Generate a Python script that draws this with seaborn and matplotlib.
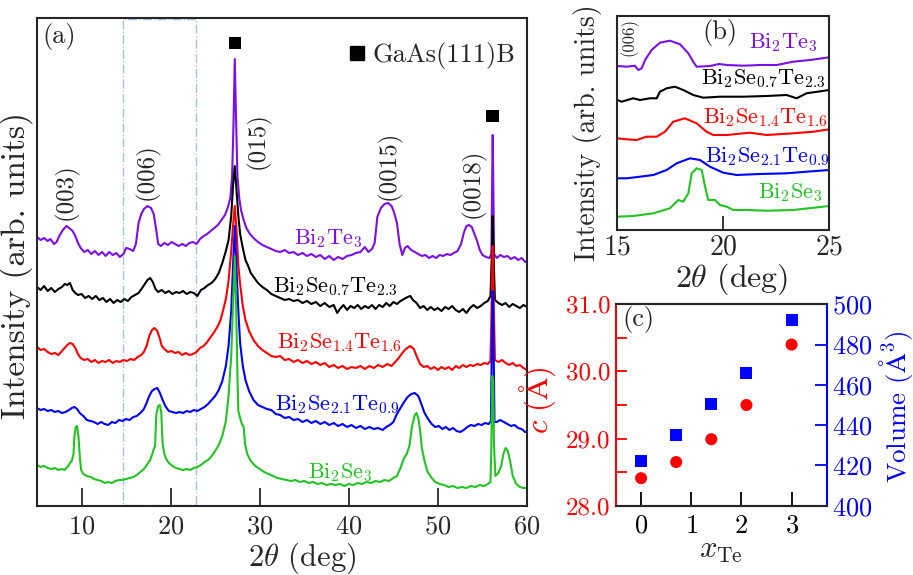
import numpy as np
import pandas as pd
import matplotlib
matplotlib.use("Agg")
import matplotlib.pyplot as plt
from matplotlib.patches import Rectangle
from matplotlib.lines import Line2D
import seaborn as sns

sns.set_style("ticks")
plt.rcParams.update({
    "font.family": "serif",
    "font.serif": ["cmr10"],
    "mathtext.fontset": "cm",
    "axes.formatter.use_mathtext": True,
    "axes.unicode_minus": False,
})

# ---------------- data: panel (a) ----------------
samples = ["Bi2Te3", "Bi2Se0.7Te2.3", "Bi2Se1.4Te1.6", "Bi2Se2.1Te0.9", "Bi2Se3"]
sample_labels = [r"$\mathrm{Bi_2Te_3}$", r"$\mathrm{Bi_2Se_{0.7}Te_{2.3}}$",
                 r"$\mathrm{Bi_2Se_{1.4}Te_{1.6}}$", r"$\mathrm{Bi_2Se_{2.1}Te_{0.9}}$",
                 r"$\mathrm{Bi_2Se_3}$"]
colors = ["#7a0fe6", "#000000", "#ff0000", "#0000ff", "#22c322"]

te3_x = [5.0, 5.4, 5.8, 6.2, 6.5, 6.9, 7.2, 7.5, 7.9, 8.3, 8.6, 9.0, 9.3, 9.6, 9.9, 10.3, 10.7, 11.1, 11.5, 11.9,
         12.3, 12.7, 13.1, 13.5, 13.9, 14.3, 14.7, 15.0, 15.4, 15.8, 16.1, 16.4, 16.7, 17.0, 17.4, 17.8, 18.1, 18.4,
         18.6, 18.9, 19.3, 19.7, 20.1, 20.5, 20.9, 21.3, 21.7, 22.1, 22.5, 22.9, 23.3, 23.7, 24.1, 24.5, 24.9, 25.3,
         25.7, 26.1, 26.4, 26.7, 26.9, 27.05, 27.2, 27.35, 27.5, 27.7, 27.9, 28.2, 28.5, 28.9, 29.3, 29.8, 30.3,
         30.8, 31.3, 31.8, 32.3, 32.8, 33.3, 33.8, 34.3, 34.8, 35.3, 35.8, 36.3, 36.8, 37.3, 37.8, 38.3, 38.8,
         39.3, 39.8, 40.3, 40.8, 41.3, 41.8, 42.2, 42.6, 42.9, 43.2, 43.6, 44.0, 44.4, 44.8, 45.1, 45.4, 45.7,
         46.0, 46.3, 46.6, 47.0, 47.4, 47.8, 48.2, 48.6, 49.0, 49.4, 49.8, 50.2, 50.6, 51.0, 51.4, 51.8, 52.2,
         52.6, 52.9, 53.2, 53.5, 53.8, 54.1, 54.4, 54.7, 55.0, 55.4, 55.8, 56.0, 56.08, 56.15, 56.22, 56.3, 56.6,
         57.0, 57.4, 57.8, 58.2, 58.6, 59.0, 59.4, 59.8, 60.0]
te3_y = [269, 266, 268, 265, 267, 262, 264, 270, 276, 280, 278, 275, 270, 263, 258, 254, 256, 252, 255, 251,
         254, 250, 254, 251, 253, 249, 252, 258, 257, 255, 262, 283, 292, 297, 300, 298, 292, 275,
         262, 260, 263, 261, 264, 262, 260, 262, 260, 263, 264, 262, 267, 270, 272, 275, 278, 281,
         286, 291, 298, 308, 330, 380, 447, 385, 330, 308, 296, 286, 278, 272, 268, 264, 261,
         259, 257, 255, 254, 256, 253, 254, 251, 253, 250, 252, 249, 251, 247, 250, 246, 249,
         247, 250, 251, 253, 254, 259, 254, 257, 263, 289, 298, 302, 303, 300, 293, 283, 262,
         251, 258, 260, 256, 254, 252, 250, 251, 248, 250, 248, 251, 250, 252, 251, 253, 255,
         262, 273, 280, 281, 279, 272, 265, 256, 251, 249, 248, 252, 320, 371, 320, 252, 248,
         251, 249, 250, 247, 249, 246, 248, 244, 245]

s07_x = [5.0, 5.4, 5.8, 6.2, 6.6, 7.0, 7.4, 7.8, 8.1, 8.4, 8.7, 9.0, 9.3, 9.6, 10.0, 10.4, 10.8, 11.2, 11.6, 12.0,
         12.4, 12.8, 13.2, 13.6, 14.0, 14.4, 14.8, 15.2, 15.6, 16.0, 16.4, 16.8, 17.1, 17.4, 17.7, 18.0, 18.3,
         18.6, 19.0, 19.4, 19.8, 20.2, 20.6, 21.0, 21.4, 21.8, 22.2, 22.6, 23.0, 23.4, 23.8, 24.2, 24.6, 25.0,
         25.4, 25.8, 26.2, 26.5, 26.8, 27.0, 27.2, 27.4, 27.6, 27.8, 28.1, 28.4, 28.7, 29.0, 29.4, 29.8, 30.3,
         30.8, 31.3, 31.8, 32.3, 32.8, 33.3, 33.8, 34.3, 34.8, 35.3, 35.8, 36.3, 36.8, 37.3, 37.8, 38.3, 38.7,
         39.0, 39.4, 39.8, 40.2, 40.6, 41.0, 41.4, 41.8, 42.2, 42.6, 43.0, 43.4, 43.8, 44.2, 44.6, 45.0, 45.4,
         45.8, 46.2, 46.6, 46.9, 47.2, 47.6, 48.0, 48.4, 48.8, 49.2, 49.6, 50.0, 50.4, 50.8, 51.2, 51.6, 52.0,
         52.4, 52.8, 53.2, 53.6, 54.0, 54.4, 54.8, 55.2, 55.6, 55.9, 56.05, 56.15, 56.25, 56.4, 56.8, 57.2,
         57.6, 58.0, 58.4, 58.8, 59.2, 59.6, 60.0]
s07_y = [219, 216, 220, 215, 218, 214, 217, 219, 222, 221, 223, 216, 213, 211, 212, 208, 210, 207, 210, 206,
         208, 204, 207, 203, 206, 204, 207, 205, 209, 211, 213, 218, 222, 226, 228, 224, 217,
         214, 216, 213, 215, 212, 214, 213, 215, 212, 214, 213, 210, 216, 218, 221, 223, 227,
         233, 243, 255, 266, 290, 320, 340, 315, 290, 272, 258, 246, 240, 233, 228, 223, 219,
         216, 212, 210, 208, 206, 207, 205, 206, 203, 205, 202, 204, 200, 203, 199, 201, 193,
         197, 201, 196, 200, 198, 201, 197, 200, 198, 201, 197, 201, 199, 203, 200, 204, 202,
         205, 207, 209, 210, 206, 203, 198, 200, 196, 199, 196, 198, 195, 199, 197, 200, 196,
         194, 197, 193, 198, 201, 198, 200, 203, 205, 210, 250, 290, 250, 206, 203, 201,
         203, 199, 202, 200, 198, 201, 199]

s14_x = [5.0, 5.4, 5.8, 6.2, 6.6, 7.0, 7.4, 7.8, 8.1, 8.4, 8.7, 9.0, 9.3, 9.6, 9.9, 10.3, 10.7, 11.1, 11.5, 11.9,
         12.3, 12.7, 13.1, 13.5, 13.9, 14.3, 14.7, 15.1, 15.5, 15.9, 16.3, 16.7, 17.0, 17.3, 17.6, 17.9, 18.2,
         18.5, 18.8, 19.0, 19.3, 19.7, 20.1, 20.5, 20.9, 21.3, 21.7, 22.1, 22.5, 22.9, 23.3, 23.7, 24.1, 24.5,
         24.9, 25.3, 25.6, 25.9, 26.2, 26.5, 26.8, 27.0, 27.2, 27.4, 27.6, 27.8, 28.1, 28.4, 28.8, 29.3, 29.8,
         30.3, 30.8, 31.3, 31.8, 32.3, 32.8, 33.3, 33.8, 34.3, 34.8, 35.3, 35.8, 36.3, 36.8, 37.3, 37.8, 38.3,
         38.8, 39.3, 39.8, 40.3, 40.8, 41.3, 41.8, 42.3, 42.8, 43.3, 43.8, 44.3, 44.8, 45.2, 45.6, 46.0, 46.4,
         46.9, 47.3, 47.6, 48.0, 48.4, 48.8, 49.2, 49.6, 50.0, 50.4, 50.8, 51.2, 51.6, 52.0, 52.4, 52.8, 53.2,
         53.6, 54.0, 54.4, 54.8, 55.2, 55.6, 55.9, 56.05, 56.15, 56.25, 56.4, 56.8, 57.2, 57.6, 58.0, 58.4,
         58.8, 59.2, 59.6, 60.0]
s14_y = [159, 156, 157, 154, 152, 153, 151, 155, 158, 161, 163, 162, 158, 152, 148, 146, 147, 144, 146, 143,
         145, 144, 146, 143, 145, 144, 146, 145, 147, 146, 149, 151, 154, 160, 170, 176, 178,
         175, 167, 160, 157, 154, 155, 153, 154, 151, 153, 151, 152, 154, 158, 160, 164, 169,
         174, 180, 186, 196, 207, 225, 255, 280, 300, 275, 240, 222, 200, 186, 175, 166, 160,
         156, 153, 150, 149, 150, 146, 147, 144, 146, 143, 145, 142, 144, 141, 143, 139, 141,
         138, 140, 137, 139, 138, 140, 137, 140, 138, 141, 139, 142, 140, 144, 148, 153, 157,
         160, 157, 150, 142, 139, 140, 137, 139, 136, 139, 137, 139, 136, 140, 138, 141, 139,
         141, 140, 142, 141, 143, 142, 145, 210, 260, 210, 146, 144, 146, 143, 141, 143,
         140, 141, 138, 136]

s21_x = [5.0, 5.4, 5.8, 6.2, 6.6, 7.0, 7.4, 7.8, 8.2, 8.6, 8.9, 9.2, 9.5, 9.8, 10.2, 10.6, 11.0, 11.4, 11.8, 12.2,
         12.6, 13.0, 13.4, 13.8, 14.2, 14.6, 15.0, 15.4, 15.8, 16.2, 16.6, 17.0, 17.3, 17.6, 17.9, 18.2, 18.5,
         18.8, 19.1, 19.4, 19.8, 20.2, 20.6, 21.0, 21.4, 21.8, 22.2, 22.6, 23.0, 23.4, 23.8, 24.2, 24.6, 25.0,
         25.4, 25.8, 26.2, 26.5, 26.8, 27.0, 27.2, 27.4, 27.6, 27.8, 28.1, 28.4, 28.8, 29.3, 29.8, 30.3, 30.8,
         31.3, 31.8, 32.3, 32.8, 33.3, 33.8, 34.3, 34.8, 35.3, 35.8, 36.3, 36.8, 37.3, 37.8, 38.3, 38.8, 39.3,
         39.8, 40.3, 40.8, 41.3, 41.8, 42.3, 42.8, 43.3, 43.8, 44.2, 44.6, 45.0, 45.4, 45.8, 46.2, 46.6, 47.0,
         47.4, 47.8, 48.1, 48.5, 48.9, 49.3, 49.7, 50.1, 50.5, 50.9, 51.3, 51.7, 52.1, 52.5, 52.9, 53.3, 53.7,
         54.1, 54.5, 54.9, 55.3, 55.7, 55.95, 56.05, 56.15, 56.25, 56.35, 56.6, 57.0, 57.4, 57.8, 58.2, 58.6,
         59.0, 59.4, 59.8, 60.0]
s21_y = [98, 96, 97, 95, 96, 94, 95, 93, 94, 96, 98, 99, 97, 93, 90, 86, 85, 84, 82, 84,
         82, 81, 84, 83, 86, 85, 87, 86, 89, 90, 93, 97, 103, 110, 115, 117, 118,
         113, 106, 100, 95, 94, 93, 94, 93, 95, 94, 96, 95, 97, 99, 102, 106, 110,
         116, 125, 140, 160, 195, 240, 280, 235, 195, 163, 140, 126, 115, 106, 101, 99, 97,
         96, 92, 91, 88, 89, 86, 87, 84, 86, 83, 85, 82, 84, 81, 83, 80, 82,
         79, 81, 78, 80, 77, 79, 77, 78, 76, 79, 81, 84, 92, 98, 104, 109, 112,
         113, 110, 103, 93, 87, 82, 79, 80, 77, 79, 76, 78, 75, 74, 76, 79, 81,
         80, 82, 81, 83, 82, 85, 160, 215, 160, 84, 84, 86, 84, 82, 80, 81,
         78, 77, 74, 74]

se3_x = [5.0, 5.4, 5.8, 6.2, 6.6, 7.0, 7.4, 7.8, 8.1, 8.5, 8.7, 8.9, 9.1, 9.2, 9.35, 9.5, 9.65, 9.8, 9.95, 10.2,
         10.6, 11.0, 11.4, 11.8, 12.2, 12.6, 13.0, 13.4, 13.8, 14.2, 14.6, 15.0, 15.4, 15.8, 16.2, 16.6, 17.0,
         17.4, 17.7, 17.95, 18.1, 18.25, 18.4, 18.6, 18.8, 18.95, 19.1, 19.3, 19.5, 19.8, 20.2, 20.6, 21.0, 21.4,
         21.8, 22.2, 22.6, 23.0, 23.4, 23.8, 24.2, 24.6, 25.0, 25.4, 25.8, 26.2, 26.5, 26.8, 27.0, 27.2, 27.35,
         27.5, 27.6, 27.8, 28.0, 28.2, 28.35, 28.6, 29.0, 29.5, 30.0, 30.5, 31.0, 31.5, 32.0, 32.5, 33.0, 33.5,
         34.0, 34.5, 35.0, 35.5, 36.0, 36.5, 37.0, 37.5, 38.0, 38.5, 39.0, 39.5, 40.0, 40.5, 41.0, 41.5, 42.0,
         42.5, 43.0, 43.5, 44.0, 44.5, 45.0, 45.4, 45.8, 46.2, 46.5, 46.8, 47.1, 47.4, 47.6, 47.8, 48.0, 48.2,
         48.5, 48.8, 49.2, 49.7, 50.2, 50.7, 51.2, 51.7, 52.2, 52.7, 53.2, 53.7, 54.2, 54.7, 55.2, 55.6, 55.9,
         56.0, 56.1, 56.2, 56.3, 56.45, 56.8, 57.1, 57.35, 57.6, 57.85, 58.1, 58.4, 58.8, 59.2, 59.6, 60.0]
se3_y = [41, 39, 40, 38, 37, 38, 36, 37, 36, 40, 43, 45, 52, 70, 79, 80, 70, 50, 36, 32,
         30, 29, 27, 26, 25, 23, 24, 23, 25, 26, 26, 27, 28, 29, 31, 34, 37,
         42, 46, 52, 57, 60, 92, 100, 101, 93, 62, 52, 47, 43, 40, 38, 37, 36,
         37, 36, 38, 39, 41, 44, 46, 50, 55, 61, 70, 85, 110, 150, 200, 250, 200,
         130, 95, 88, 82, 79, 62, 52, 45, 40, 37, 34, 32, 30, 28, 27, 26, 25,
         26, 24, 25, 23, 24, 22, 23, 21, 22, 21, 22, 20, 22, 21, 23, 22, 24,
         23, 25, 24, 26, 25, 28, 30, 38, 48, 52, 60, 80, 91, 93, 88, 76, 58,
         45, 35, 29, 24, 22, 21, 19, 20, 18, 19, 18, 20, 19, 21, 20, 22, 24,
         60, 130, 125, 60, 30, 33, 40, 52, 58, 55, 45, 30, 22, 19, 18, 18]

# GaAs substrate peak markers
gaas_x = [27.2, 56.15]
gaas_y = [463, 390]

# peak index labels (a)
hkl_text = ["(003)", "(006)", "(015)", "(0015)", "(0018)"]
hkl_x = [8.26, 17.35, 29.8, 44.5, 53.94]
hkl_y = [314, 334, 365, 341, 323]

# ---------------- data: panel (b) ----------------
b_te3_x = [15.0, 15.44, 15.83, 15.99, 16.15, 16.31, 16.62, 17.01, 17.48, 17.96, 18.35, 18.58, 18.74, 19.37, 19.8,
           20.16, 20.94, 21.73, 22.52, 23.3, 24.09, 25.0]
b_te3_y = [164, 163.3, 164.3, 160, 161.7, 170, 180, 187.3, 189.3, 185.7, 176.7, 168.3, 163.3, 164, 166,
           165, 164.3, 165, 165, 168.3, 170, 172.7]
b_s07_x = [15.0, 15.2, 15.75, 16.07, 16.54, 16.86, 17.01, 17.33, 17.72, 18.11, 18.58, 19.06, 19.84, 20.94,
           22.04, 22.99, 23.46, 23.93, 25.0]
b_s07_y = [130, 128.3, 131.7, 130, 131.7, 131.7, 138.3, 141.7, 143.3, 140, 135, 132.3, 133.3, 133.3,
           134, 135, 131.7, 136.7, 140]
b_s14_x = [15.0, 15.44, 15.91, 16.38, 16.86, 17.25, 17.64, 18.19, 18.74, 19.21, 19.53, 20.16, 21.26, 22.04,
           23.3, 24.25, 25.0]
b_s14_y = [91.7, 90.7, 90, 93.3, 93.3, 98.3, 108.3, 111.7, 106.7, 98.3, 95, 95, 97.3, 95,
           96.7, 98.3, 100.7]
b_s21_x = [15.0, 15.44, 16.07, 16.7, 17.33, 17.8, 18.43, 18.9, 19.37, 20.0, 20.63, 21.73, 22.99, 23.93, 25.0]
b_s21_y = [51.7, 51.7, 53.3, 55, 60, 66.7, 71.7, 70, 63.3, 57.3, 55, 56, 56.7, 58.3, 60]
b_se3_x = [15.0, 15.75, 16.7, 17.48, 17.88, 18.11, 18.35, 18.51, 18.74, 18.98, 19.14, 19.29, 19.61, 19.84,
           20.16, 20.47, 21.1, 22.04, 23.3, 25.0]
b_se3_y = [13.3, 14, 16.7, 21.7, 30, 28.3, 36.7, 56.7, 61.7, 60, 43.3, 30, 30, 25,
           23.3, 20, 20, 19.3, 20, 24]

# ---------------- data: panel (c) ----------------
x_te = [0, 0.7, 1.4, 2.1, 3.0]
c_lattice = [28.41, 28.65, 28.99, 29.50, 30.40]
cell_volume = [422.4, 435.3, 450.7, 465.7, 492.2]

# ---------------- figure ----------------
W, H = 913, 575
fig = plt.figure(figsize=(W / 100, H / 100), dpi=100)


def axrect(l, t, r, b):
    return [l / W, 1 - b / H, (r - l) / W, (b - t) / H]


ax_a = fig.add_axes(axrect(37, 18, 527, 506))
ax_b = fig.add_axes(axrect(617.3, 15.7, 829.3, 230))
ax_c = fig.add_axes(axrect(616, 304.3, 826.7, 505.7))


def long_df(xs, ys):
    frames = []
    for name, x, y in zip(samples, xs, ys):
        frames.append(pd.DataFrame({"two_theta": x, "intensity": y, "sample": name}))
    return pd.concat(frames, ignore_index=True)


pal = dict(zip(samples, colors))

# ---- panel (a)
df_a = long_df([te3_x, s07_x, s14_x, s21_x, se3_x], [te3_y, s07_y, s14_y, s21_y, se3_y])
ax_a.add_patch(Rectangle((14.6, 1.0), 8.25, 486.0, fill=False, ls="-.", ec="#a9c2dc", lw=1.0, zorder=1))
sns.lineplot(data=df_a, x="two_theta", y="intensity", hue="sample", hue_order=samples, palette=pal,
             sort=False, estimator=None, lw=1.5, legend=False, ax=ax_a, zorder=2)
sns.scatterplot(x=gaas_x, y=gaas_y, marker="s", color="black", s=80, edgecolor="none", ax=ax_a, zorder=3)
ax_a.set_xlim(5, 60)
ax_a.set_ylim(0, 488)
ax_a.set_yticks([])
ax_a.set_xticks([10, 20, 30, 40, 50, 60])
ax_a.tick_params(axis="x", direction="in", length=13, width=1.3, labelsize=19, pad=6)
for sp in ax_a.spines.values():
    sp.set_linewidth(1.5)
ax_a.set_xlabel(r"$2\theta$ (deg)", fontsize=22)
ax_a.set_ylabel("Intensity (arb. units)", fontsize=24)
ax_a.yaxis.set_label_coords(-0.008, 0.492)
ax_a.xaxis.set_label_coords(0.541, -0.07)

for txt, x, y in zip(hkl_text, hkl_x, hkl_y):
    ax_a.text(x, y, txt, rotation=90, ha="center", va="center", fontsize=18)
lab_a_x = [37.66, 38.45, 38.9, 38.67, 39.0]
lab_a_y = [267, 219, 163, 101, 33]
for lab, c, x, y in zip(sample_labels, colors, lab_a_x, lab_a_y):
    ax_a.text(x, y, lab, color=c, ha="center", va="center", fontsize=16)
ax_a.text(7.5, 470, "(a)", ha="center", va="center", fontsize=19)
ax_a.legend(handles=[Line2D([], [], marker="s", color="black", ls="", markersize=10)],
            labels=["GaAs(111)B"], loc="upper right", bbox_to_anchor=(0.977, 0.95),
            frameon=False, fontsize=19, handletextpad=0.3, borderaxespad=0, borderpad=0,
            handlelength=0.6)

# ---- panel (b)
df_b = long_df([b_te3_x, b_s07_x, b_s14_x, b_s21_x, b_se3_x], [b_te3_y, b_s07_y, b_s14_y, b_s21_y, b_se3_y])
sns.lineplot(data=df_b, x="two_theta", y="intensity", hue="sample", hue_order=samples, palette=pal,
             sort=False, estimator=None, lw=1.5, legend=False, ax=ax_b)
ax_b.set_xlim(15, 25)
ax_b.set_ylim(0, 214.3)
ax_b.set_yticks([])
ax_b.set_xticks([15, 20, 25])
ax_b.tick_params(axis="x", direction="in", length=10, width=1.3, labelsize=20, pad=3)
for sp in ax_b.spines.values():
    sp.set_linewidth(1.5)
ax_b.set_xlabel(r"$2\theta$ (deg)", fontsize=23)
ax_b.set_ylabel("Intensity (arb. units)", fontsize=20)
ax_b.yaxis.set_label_coords(-0.072, 0.453)
ax_b.xaxis.set_label_coords(0.541, -0.149)
lab_b_x = [22.82, 21.87, 21.97, 22.06, 23.15]
lab_b_y = [187, 151, 112, 73, 37]
for lab, c, x, y in zip(sample_labels, colors, lab_b_x, lab_b_y):
    ax_b.text(x, y, lab, color=c, ha="center", va="center", fontsize=16)
ax_b.text(19.84, 198, "(b)", ha="center", va="center", fontsize=19)
ax_b.text(15.55, 193, "(006)", rotation=90, ha="center", va="center", fontsize=12)

# ---- panel (c)
ax_v = ax_c.twinx()
ax_v.set_position(axrect(616, 304.3, 826.7, 505.7))
sns.scatterplot(x=x_te, y=c_lattice, marker="o", color="#ff0000", s=75, edgecolor="none", ax=ax_c, zorder=3)
sns.scatterplot(x=x_te, y=cell_volume, marker="s", color="#0000ff", s=75, edgecolor="none", ax=ax_v, zorder=3)
ax_c.set_xlim(-0.5, 3.7)
ax_c.set_ylim(28, 31)
ax_v.set_ylim(400, 500)
ax_c.set_xticks([0, 1, 2, 3])
ax_c.set_yticks([28, 29, 30, 31])
ax_c.set_yticks([28.5, 29.5, 30.5], minor=True)
ax_c.set_yticklabels(["28.0", "29.0", "30.0", "31.0"])
ax_v.set_yticks([400, 420, 440, 460, 480, 500])
ax_c.tick_params(axis="x", direction="in", length=10, width=1.3, labelsize=19, pad=6, colors="black")
ax_c.tick_params(axis="y", which="both", direction="in", length=8, width=1.3, labelsize=18,
                 colors="#ff0000", pad=4)
ax_v.tick_params(axis="y", direction="in", length=9, width=1.3, labelsize=19, colors="#0000ff", pad=4)
for sp in ax_c.spines.values():
    sp.set_linewidth(1.5)
for sp in ax_v.spines.values():
    sp.set_linewidth(1.5)
ax_c.spines["left"].set_color("#ff0000")
ax_c.spines["right"].set_visible(False)
ax_v.spines["left"].set_visible(False)
ax_v.spines["right"].set_color("#0000ff")
ax_c.set_xlabel(r"$x_{\mathrm{Te}}$", fontsize=22)
ax_c.set_ylabel(r"$c\ (\mathrm{\AA})$", fontsize=22, color="#ff0000")
ax_v.set_ylabel(r"Volume $(\mathrm{\AA}^3)$", fontsize=19.5, color="#0000ff")
ax_c.yaxis.set_label_coords(-0.275, 0.52)
ax_v.yaxis.set_label_coords(1.238, 0.49)
ax_c.xaxis.set_label_coords(0.5, -0.16)
ax_c.text(-0.06, 30.77, "(c)", ha="center", va="center", fontsize=19)

fig.savefig("out.png", dpi=100)
